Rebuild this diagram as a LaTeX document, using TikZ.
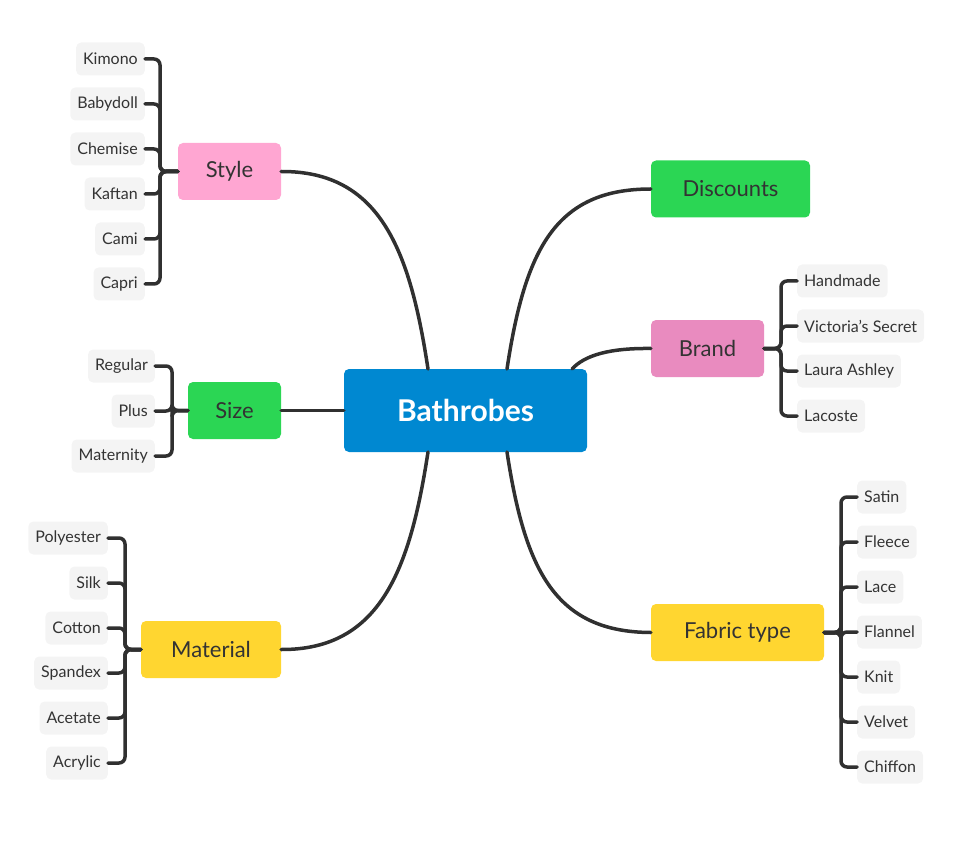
\documentclass[tikz,border=0pt]{standalone}
\usepackage{fontspec}
\setmainfont{Lato}
\begin{document}
\begin{tikzpicture}[x=1pt,y=-1pt,
 leaf/.style={fill=leafc,rounded corners=5pt,minimum height=33pt,inner xsep=7pt,font=\fontsize{16}{18}\selectfont,text=darkt},
 mid/.style={rounded corners=5pt,minimum height=57pt,inner xsep=10pt,font=\fontsize{22}{24}\selectfont,text=darkt},
 ln/.style={line width=3.5pt,draw=linec,rounded corners=6pt,line cap=round}]
\definecolor{leafc}{HTML}{F4F4F4}
\definecolor{darkt}{HTML}{333333}
\definecolor{linec}{HTML}{303030}
\definecolor{bluec}{HTML}{0088D1}
\definecolor{pinkc}{HTML}{FFA6D2}
\definecolor{pink2}{HTML}{E98BBF}
\definecolor{greenc}{HTML}{2BD654}
\definecolor{yellc}{HTML}{FFD630}
\useasboundingbox (0,0) rectangle (969,842);
\node[fill=bluec,rounded corners=5pt,minimum width=243pt,minimum height=83pt,text=white,font=\fontsize{30}{32}\selectfont\bfseries] (c) at (465.5,410.5) {Bathrobes};
\node[mid,fill=pinkc,minimum width=103pt] (st) at (229.5,171.5) {Style};
\node[mid,fill=greenc,minimum width=93pt] (sz) at (234.5,410.5) {Size};
\node[mid,fill=yellc,minimum width=140pt] (ma) at (211,649.5) {Material};
\node[mid,fill=greenc,minimum width=159pt] (di) at (730.5,189) {Discounts};
\node[mid,fill=pink2,minimum width=113pt] (br) at (707.5,348.5) {Brand};
\node[mid,fill=yellc,minimum width=173pt] (fa) at (737.5,632.5) {Fabric type};
% main connectors
\draw[ln] (428,369) .. controls (410,250) and (380,171) .. (st.east);
\draw[ln] (c.west) -- (sz.east);
\draw[ln] (428,452) .. controls (410,570) and (380,650) .. (ma.east);
\draw[ln] (507,369) .. controls (525,250) and (555,189) .. (di.west);
\draw[ln] (572,369) .. controls (585,355) and (610,348) .. (br.west);
\draw[ln] (507,452) .. controls (525,570) and (555,632) .. (fa.west);
% style leaves
\foreach \t [count=\i] in {Kimono,Babydoll,Chemise,Kaftan,Cami,Capri}{
 \node[leaf,anchor=east] (s\i) at (145,14+45*\i) {\t};
 \draw[ln] (st.west) -- (160,171.5) |- (s\i.east);}
\foreach \t [count=\i] in {Regular,Plus,Maternity}{
 \node[leaf,anchor=east] (z\i) at (155,321+45*\i) {\t};
 \draw[ln] (sz.west) -- (172,410.5) |- (z\i.east);}
\foreach \t [count=\i] in {Polyester,Silk,Cotton,Spandex,Acetate,Acrylic}{
 \node[leaf,anchor=east] (m\i) at (108,493+45*\i) {\t};
 \draw[ln] (ma.west) -- (125,649.5) |- (m\i.east);}
\foreach \t [count=\i] in {Handmade,Victoria's Secret,Laura Ashley,Lacoste}{
 \node[leaf,anchor=west] (b\i) at (797,236+45*\i) {\t};
 \draw[ln] (br.east) -- (781,348.5) |- (b\i.west);}
\foreach \t [count=\i] in {Satin,Fleece,Lace,Flannel,Knit,Velvet,Chiffon}{
 \node[leaf,anchor=west] (f\i) at (857,452+45*\i) {\t};
 \draw[ln] (fa.east) -- (841,632.5) |- (f\i.west);}
\end{tikzpicture}
\end{document}
